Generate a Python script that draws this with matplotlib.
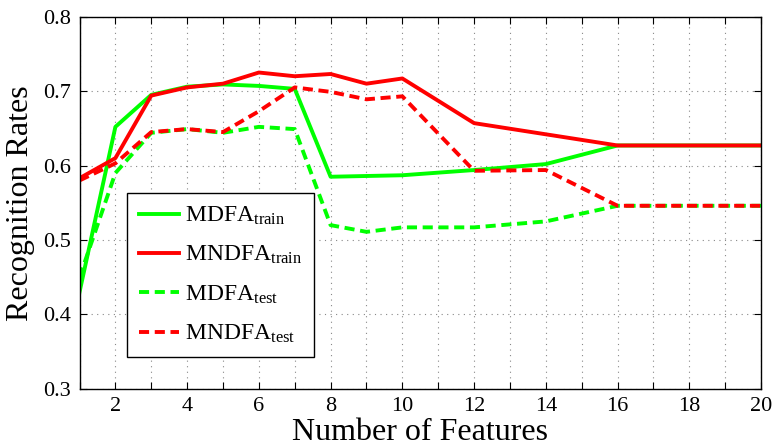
import matplotlib

matplotlib.use("Agg")
import matplotlib.pyplot as plt

plt.rcParams["font.family"] = ["Liberation Serif", "DejaVu Serif"]
plt.rcParams["mathtext.fontset"] = "custom"
plt.rcParams["mathtext.rm"] = "Liberation Serif"
plt.rcParams["mathtext.it"] = "Liberation Serif:italic"

# Number of features evaluated
features = [1, 2, 3, 4, 5, 6, 7, 8, 9, 10, 12, 14, 16, 18, 20]

# Recognition rates
mdfa_train = [0.430, 0.652, 0.695, 0.706, 0.709, 0.707, 0.703, 0.585, 0.586,
              0.587, 0.594, 0.602, 0.627, 0.627, 0.627]
mndfa_train = [0.583, 0.610, 0.694, 0.705, 0.710, 0.725, 0.720, 0.723, 0.710,
               0.717, 0.657, 0.642, 0.627, 0.627, 0.627]
mdfa_test = [0.450, 0.590, 0.644, 0.649, 0.644, 0.652, 0.649, 0.520, 0.511,
             0.517, 0.517, 0.525, 0.546, 0.546, 0.546]
mndfa_test = [0.580, 0.603, 0.645, 0.649, 0.645, 0.673, 0.705, 0.699, 0.689,
              0.693, 0.593, 0.594, 0.546, 0.546, 0.546]

GREEN = "#00ff00"
RED = "#ff0000"

fig = plt.figure(figsize=(7.75, 4.46), dpi=100)
ax = fig.add_axes([0.1026, 0.128, 0.8794, 0.8346])

lw = 2.8
dash = (0, (2.6, 1.45))
ax.plot(features, mdfa_train, color=GREEN, lw=lw, label=r"MDFA$_{\mathrm{train}}$")
ax.plot(features, mndfa_train, color=RED, lw=lw, label=r"MNDFA$_{\mathrm{train}}$")
ax.plot(features, mdfa_test, color=GREEN, lw=lw, linestyle=dash,
        label=r"MDFA$_{\mathrm{test}}$")
ax.plot(features, mndfa_test, color=RED, lw=lw, linestyle=dash,
        label=r"MNDFA$_{\mathrm{test}}$")

ax.set_xlim(1, 20)
ax.set_ylim(0.3, 0.8)
ax.set_xticks(range(1, 21))
ax.set_xticklabels([str(i) if i % 2 == 0 else "" for i in range(1, 21)])
ax.set_yticks([0.3, 0.4, 0.5, 0.6, 0.7, 0.8])
ax.set_yticklabels(["0.3", "0.4", "0.5", "0.6", "0.7", "0.8"])
ax.tick_params(direction="in", top=True, right=True, length=5, width=0.8,
               labelsize=16, pad=6)
ax.grid(True, linestyle=(0, (1, 4)), color="#888888", linewidth=0.8)
for spine in ax.spines.values():
    spine.set_linewidth(1.0)

ax.set_xlabel("Number of Features", fontsize=23, labelpad=1)
ax.set_ylabel("Recognition Rates", fontsize=23, labelpad=6)

leg = ax.legend(loc="lower left", bbox_to_anchor=(0.0697, 0.086), fontsize=17,
                handlelength=1.7, handletextpad=0.25, labelspacing=0.72,
                borderpad=0.5, borderaxespad=0, fancybox=False,
                framealpha=1.0, edgecolor="black")
leg.get_frame().set_linewidth(1.0)

fig.savefig("out.png", dpi=100)
